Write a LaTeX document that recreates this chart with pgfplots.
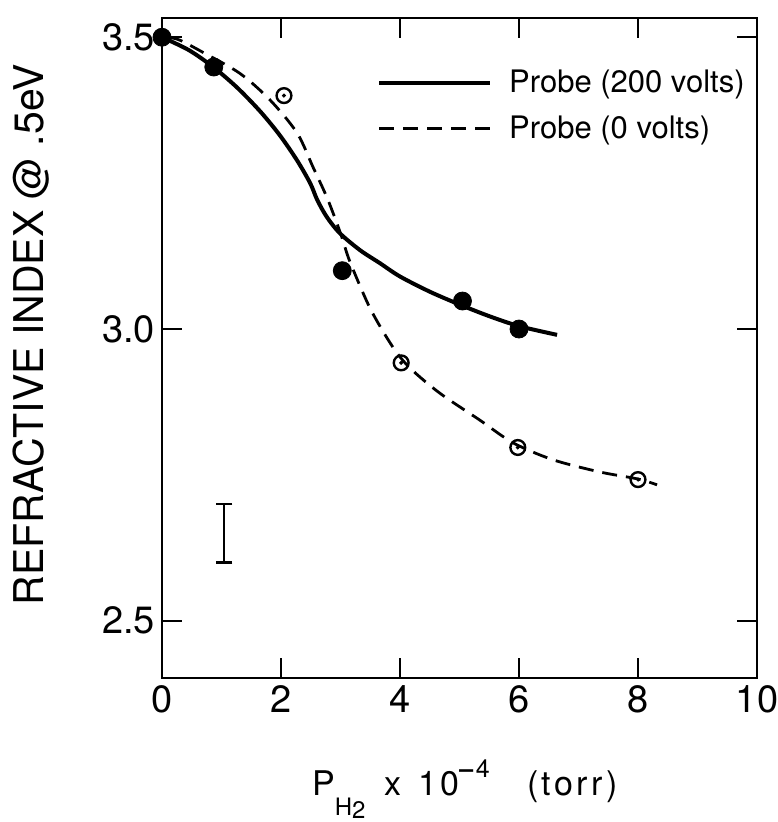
\documentclass[border=0pt]{standalone}
\usepackage{fontspec}
\setmainfont{TeX Gyre Heros}
\usepackage{pgfplots}
\pgfplotsset{compat=1.18}
\begin{document}
\begin{tikzpicture}
\path[use as bounding box] (-81pt,-72pt) rectangle (307.5pt,339pt);
\begin{axis}[
  at={(0pt,0pt)}, anchor=south west,
  scale only axis, width=297.5pt, height=330pt,
  xmin=0, xmax=10, ymin=2.402, ymax=3.533,
  clip=false,
  axis line style={line width=1.2pt},
  tick align=inside, tick style={line width=1.2pt, black}, major tick length=10pt,
  xtick={0,2,4,6,8,10}, xticklabels={0,2,4,6,8,10},
  ytick={2.5,3.0,3.5}, yticklabels={2.5,3.0,3.5},
  ticklabel style={font=\fontsize{19}{22}\selectfont},
  /pgf/number format/assume math mode=true,
  every axis y label/.style={at={(axis description cs:-0.220,0.52)}, rotate=90, anchor=center, font=\fontsize{20.5}{24}\selectfont},
  every axis x label/.style={at={(axis description cs:0.509,0)}, anchor=base, yshift=-58.5pt, font=\fontsize{17}{20}\selectfont\addfontfeatures{LetterSpace=10}},
  ylabel={REFRACTIVE INDEX @ .5eV},
  xlabel={P\raisebox{-10pt}{\fontsize{12}{13}\selectfont H\raisebox{-1.5pt}{2}}\hspace{0.55em}x\hspace{0.5em}10\raisebox{9pt}{\fontsize{12.5}{13}\selectfont\textbf{–}4}\hspace{1.1em}(torr)},
  legend style={draw=none, fill=none, at={(rel axis cs:0.361,0.922)}, anchor=north west,
    inner sep=0pt, row sep=10pt, column sep=8.5pt, font=\fontsize{15.5}{18}\selectfont,
    nodes={inner sep=0pt}},
  legend cell align=left,
  legend image code/.code={\draw[#1] (0pt,0pt) -- (55.5pt,0pt);},
]
% fitted curves
\addplot[black, line width=2pt, smooth, tension=0.5] coordinates {
 (0,3.5) (0.45,3.478) (0.86,3.449) (1.26,3.414) (1.65,3.373) (1.98,3.332)
 (2.27,3.289) (2.49,3.25) (2.61,3.221) (2.77,3.192) (2.99,3.164) (3.33,3.135)
 (3.66,3.113) (4.0,3.090) (4.5,3.064) (5.0,3.042) (5.5,3.022) (6.0,3.005) (6.64,2.99)};
\addlegendentry{Probe (200 volts)}
\addplot[black, line width=1.4pt, dash pattern=on 7.5pt off 4.5pt, smooth, tension=0.5] coordinates {
 (0.1,3.5) (0.3,3.495) (0.69,3.474) (1.31,3.438) (1.82,3.392) (2.27,3.336)
 (2.54,3.277) (2.77,3.226) (2.94,3.181) (3.04,3.152) (3.16,3.115) (3.5,3.035)
 (3.88,2.969) (4.17,2.933) (4.67,2.89) (5.34,2.844) (5.9,2.805) (6.57,2.776)
 (7.36,2.755) (8.0,2.743) (8.32,2.733)};
\addlegendentry{Probe (0 volts)}
% data points, 200 V (filled)
\addplot[forget plot, only marks, mark=*, mark size=4.5pt, black] coordinates {
 (0,3.5) (0.87,3.449) (3.03,3.10) (5.05,3.048) (6.0,3.0)};
% data points, 0 V (open with centre dot)
\addplot[forget plot, only marks, mark=o, mark size=3.7pt, mark options={line width=1.2pt, fill=white}, black] coordinates {
 (2.05,3.40) (4.02,2.942) (5.98,2.797) (8.0,2.742)};
\addplot[forget plot, only marks, mark=*, mark size=0.8pt, black] coordinates {
 (2.05,3.40) (4.02,2.942) (5.98,2.797) (8.0,2.742)};
% representative error bar
\addplot[forget plot, black, line width=1pt, mark=-, mark size=4pt, mark options={line width=1.3pt}] coordinates {
 (1.05,2.6) (1.05,2.7)};
\end{axis}
\end{tikzpicture}
\end{document}
